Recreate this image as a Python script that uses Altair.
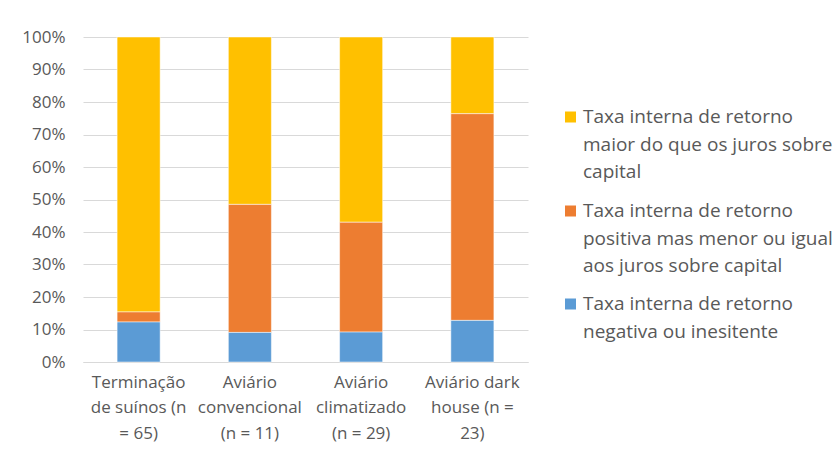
import altair as alt
import pandas as pd

categories = [
    "Terminação|de suínos (n|= 65)",
    "Aviário|convencional|(n = 11)",
    "Aviário|climatizado|(n = 29)",
    "Aviário dark|house (n =|23)",
]
series = [
    "Taxa interna de retorno|maior do que os juros sobre|capital",
    "Taxa interna de retorno|positiva mas menor ou igual|aos juros sobre capital",
    "Taxa interna de retorno|negativa ou inesitente",
]
colors = ["#FFC000", "#ED7D31", "#5B9BD5"]
stack_order = [2, 1, 0]

maior = [0.846, 0.515, 0.570, 0.236]
positiva = [0.031, 0.394, 0.338, 0.636]
negativa = [0.123, 0.091, 0.092, 0.128]

rows = []
for values, s, o in zip([maior, positiva, negativa], series, stack_order):
    for c, v in zip(categories, values):
        rows.append({"cat": c, "serie": s, "val": v, "ord": o})
df = pd.DataFrame(rows)

FONT = "Open Sans"
GREY = "#595959"

# legend layout (pixels relative to plot origin)
LEG_SYM_X = 487.5
LEG_TEXT_X = 500
LEG_Y = [80, 174, 267]
LEG_LH = 27.5

bars = (
    alt.Chart(df)
    .mark_bar(stroke="white", strokeWidth=0.5)
    .encode(
        x=alt.X(
            "cat:N",
            sort=categories,
            title=None,
            scale=alt.Scale(paddingInner=0.613, paddingOuter=0.3065),
            axis=alt.Axis(
                labelExpr="split(datum.label, '|')",
                labelAngle=0,
                labelFont=FONT,
                labelFontSize=17,
                labelColor=GREY,
                labelLineHeight=25.5,
                labelBaseline="top",
                labelPadding=12,
                ticks=False,
                domainColor="#D9D9D9",
                domainWidth=1,
                grid=False,
                labelLimit=0,
            ),
        ),
        y=alt.Y(
            "val:Q",
            stack="zero",
            title=None,
            scale=alt.Scale(domain=[0, 1], nice=False),
            axis=alt.Axis(
                format=".0%",
                values=[i / 10 for i in range(11)],
                labelFont=FONT,
                labelFontSize=17,
                labelColor=GREY,
                labelPadding=18,
                ticks=False,
                domain=False,
                gridColor="#D9D9D9",
                gridWidth=1,
            ),
        ),
        color=alt.Color(
            "serie:N",
            scale=alt.Scale(domain=series, range=colors),
            legend=None,
        ),
        order=alt.Order("ord:Q", sort="ascending"),
    )
)

layers = [bars]
for s, c, ly in zip(series, colors, LEG_Y):
    layers.append(
        alt.Chart(pd.DataFrame({"serie": [s]}))
        .mark_square(size=121, color=c, opacity=1)
        .encode(x=alt.value(LEG_SYM_X), y=alt.value(ly))
    )
    layers.append(
        alt.Chart(pd.DataFrame({"serie": [s]}))
        .transform_calculate(lines="split(datum.serie, '|')")
        .mark_text(
            align="left",
            baseline="middle",
            font=FONT,
            fontSize=19,
            color=GREY,
            lineHeight=LEG_LH,
        )
        .encode(
            x=alt.value(LEG_TEXT_X),
            y=alt.value(ly),
            text="lines:N",
        )
    )

chart = (
    alt.layer(*layers)
    .properties(width=445, height=325)
    .configure_view(stroke=None)
    .properties(
        autosize=alt.AutoSizeParams(type="none"),
        padding={"left": 83, "top": 37, "right": 309, "bottom": 91},
        background="white",
    )
)

chart.save("out.html", embed_options={"renderer": "svg", "actions": False})
